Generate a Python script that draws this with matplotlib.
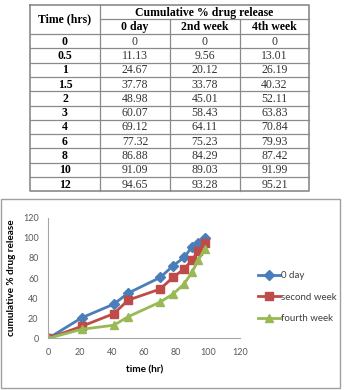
import matplotlib
matplotlib.use("Agg")
import matplotlib.pyplot as plt
from matplotlib.patches import Rectangle

# ---- table data ----
table_times = ["0", "0.5", "1", "1.5", "2", "3", "4", "6", "8", "10", "12"]
day0 = ["0", "11.13", "24.67", "37.78", "48.98", "60.07", "69.12", "77.32", "86.88", "91.09", "94.65"]
week2 = ["0", "9.56", "20.12", "33.78", "45.01", "58.43", "64.11", "75.23", "84.29", "89.03", "93.28"]
week4 = ["0", "13.01", "26.19", "40.32", "52.11", "63.83", "70.84", "79.93", "87.42", "91.99", "95.21"]
col_headers = ["0 day", "2nd week", "4th week"]
group_header = "Cumulative % drug release"
first_header = "Time (hrs)"

# ---- chart data ----
chart_x = [0, 21, 41, 50, 70, 78, 85, 90, 94, 98]
chart_day0 = [0, 20.5, 34, 45, 60.5, 72, 80.5, 91, 95, 100]
chart_week2 = [0, 12, 24.5, 38, 49, 60.5, 69, 78, 87, 95]
chart_week4 = [0, 9, 13, 21.5, 36, 44, 54, 66, 78, 89]
series_labels = ["0 day", "second week", "fourth week"]

W, H = 344, 390
fig = plt.figure(figsize=(W / 100, H / 100), dpi=100)

# overlay axes in pixel coordinates for table and frame
ov = fig.add_axes([0, 0, 1, 1])
ov.set_xlim(0, W)
ov.set_ylim(H, 0)
ov.axis("off")

col_edges = [30, 100, 170, 240, 309]
top = 5
hdr_mid = 19.3
hdr_bot = 34
row_h = (191.3 - hdr_bot) / len(table_times)
bottom = hdr_bot + row_h * len(table_times)
lc = "#8a8a8a"
lw = 0.9
serif = "Liberation Serif"
fs = 8.5

# outer border
ov.plot([col_edges[0], col_edges[-1], col_edges[-1], col_edges[0], col_edges[0]],
        [top, top, bottom, bottom, top], color=lc, lw=1.2)
# vertical lines
ov.plot([col_edges[1]] * 2, [top, bottom], color=lc, lw=lw)
for xe in col_edges[2:-1]:
    ov.plot([xe] * 2, [hdr_mid, bottom], color=lc, lw=lw)
# horizontal lines
ov.plot([col_edges[1], col_edges[-1]], [hdr_mid] * 2, color=lc, lw=lw)
for i in range(len(table_times)):
    y = hdr_bot + i * row_h
    ov.plot([col_edges[0], col_edges[-1]], [y, y], color=lc, lw=lw)

ov.text((col_edges[0] + col_edges[1]) / 2, (top + hdr_bot) / 2, first_header,
        ha="center", va="center", family=serif, fontsize=fs, weight="bold")
ov.text((col_edges[1] + col_edges[-1]) / 2, (top + hdr_mid) / 2 + 0.5, group_header,
        ha="center", va="center", family=serif, fontsize=fs, weight="bold")
for j, h in enumerate(col_headers):
    ov.text((col_edges[j + 1] + col_edges[j + 2]) / 2, (hdr_mid + hdr_bot) / 2 + 0.5, h,
            ha="center", va="center", family=serif, fontsize=fs, weight="bold")
for i, t in enumerate(table_times):
    yc = hdr_bot + (i + 0.5) * row_h + 0.5
    ov.text((col_edges[0] + col_edges[1]) / 2, yc, t, ha="center", va="center",
            family=serif, fontsize=fs, weight="bold")
    for j, col in enumerate([day0, week2, week4]):
        ov.text((col_edges[j + 1] + col_edges[j + 2]) / 2, yc, col[i], ha="center",
                va="center", family=serif, fontsize=fs, color="#333333")

# chart frame
ov.add_patch(Rectangle((0.5, 199), 339.5, 189, fill=False, edgecolor="#a0a0a0", lw=1.0))

# ---- chart ----
x0, x1 = 48.3, 240.0
y0, y1 = 338.3, 217.7
ax = fig.add_axes([x0 / W, (H - y0) / H, (x1 - x0) / W, (y0 - y1) / H])
blue, red, green = "#4A7EBB", "#BE4B48", "#98B954"
ax.plot(chart_x, chart_day0, color=blue, lw=2.0, marker="D", ms=5, label=series_labels[0])
ax.plot(chart_x, chart_week2, color=red, lw=2.0, marker="s", ms=6, label=series_labels[1])
ax.plot(chart_x, chart_week4, color=green, lw=2.0, marker="^", ms=6, label=series_labels[2])
ax.set_xlim(0, 120)
ax.set_ylim(0, 120)
ax.set_xticks(range(0, 121, 20))
ax.set_yticks(range(0, 121, 20))
for s in ["top", "right"]:
    ax.spines[s].set_visible(False)
for s in ["left", "bottom"]:
    ax.spines[s].set_color("#a6a6a6")
    ax.spines[s].set_linewidth(0.8)
ax.tick_params(length=0, labelsize=6.5, colors="#595959", pad=7)
for lab in ax.get_xticklabels() + ax.get_yticklabels():
    lab.set_family("Lato")
ax.set_xlabel("time (hr)", family="Lato", weight="bold", fontsize=7.2, labelpad=6)
ax.set_ylabel("cumulative % drug release", family="Lato", weight="bold", fontsize=7.2,
              labelpad=5)
ax.patch.set_alpha(0)

leg = ax.legend(loc="center left", bbox_to_anchor=(258 / W, (H - 297.3) / H),
                bbox_transform=fig.transFigure, frameon=False, borderpad=0,
                borderaxespad=0, handlelength=2.3, handletextpad=0.1,
                labelspacing=1.3, prop={"family": "Lato", "size": 7})
for t in leg.get_texts():
    t.set_color("#404040")

fig.savefig("out.png", dpi=100)
